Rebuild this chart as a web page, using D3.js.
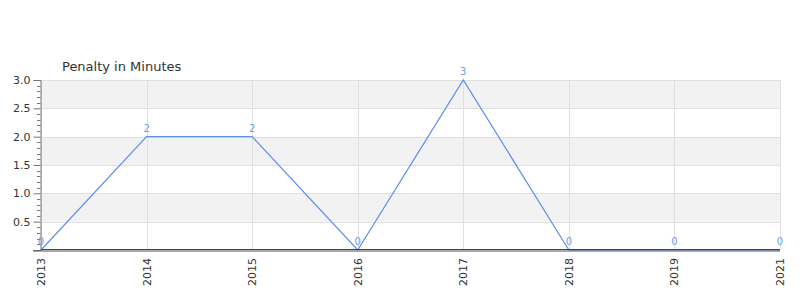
<!DOCTYPE html>
<html><head><meta charset="utf-8">
<script src="https://cdn.jsdelivr.net/npm/d3@7"></script>
<style>body{margin:0;background:#fff;font-family:"DejaVu Sans",sans-serif;}</style>
</head><body><svg id="c" width="800" height="300"></svg>
<script>
const years = ["2013","2014","2015","2016","2017","2018","2019","2021"];
const penalty = [0,2,2,0,3,0,0,0];
const yTicks = [0.5,1.0,1.5,2.0,2.5,3.0];
const title = "Penalty in Minutes";

const svg = d3.select("#c");
const L=41,R=780,T=80,B=250;
const x = d3.scalePoint().domain(years).range([L,R]);
const y = d3.scaleLinear().domain([0,3]).range([B,T]);
const font = "DejaVu Sans, sans-serif";

// bands
const bands = d3.range(0,3,0.5);
svg.selectAll("rect.band").data(bands).enter().append("rect")
  .attr("x",L).attr("width",R-L)
  .attr("y",d=>y(d+0.5)).attr("height",d=>y(d)-y(d+0.5))
  .attr("fill",(d,i)=>i%2===1?"#f2f2f2":"#ffffff");
// horizontal grid
svg.selectAll("line.hg").data(yTicks).enter().append("line")
  .attr("x1",L).attr("x2",R).attr("y1",d=>Math.round(y(d))+0.5).attr("y2",d=>Math.round(y(d))+0.5)
  .attr("stroke","#e0e0e0");
// vertical grid
svg.selectAll("line.vg").data(years).enter().append("line")
  .attr("x1",d=>Math.round(x(d))+0.5).attr("x2",d=>Math.round(x(d))+0.5).attr("y1",T).attr("y2",B)
  .attr("stroke","#e0e0e0");

// y axis
const ya = svg.append("g").attr("transform",`translate(${L-0.5},0)`)
  .call(d3.axisLeft(y).tickValues(yTicks).tickFormat(d3.format(".1f")).tickSize(7).tickPadding(3));
ya.select(".domain").attr("stroke","#777");
ya.selectAll(".tick line").attr("stroke","#777");
ya.selectAll("text").attr("fill","#333").style("font-family",font).style("font-size","11px");
const minor = d3.range(0.1,3.0001,0.1).filter(v=>Math.abs(v*2-Math.round(v*2))>1e-6);
svg.append("g").selectAll("line").data(minor).enter().append("line")
  .attr("x1",L-4).attr("x2",L-0.5).attr("y1",d=>Math.round(y(d))+0.5).attr("y2",d=>Math.round(y(d))+0.5)
  .attr("stroke","#777");

// line
const line = d3.line().x((d,i)=>x(years[i])).y(d=>y(d));
svg.append("path").datum(penalty).attr("d",line).attr("fill","none")
  .attr("stroke","#5b8ff0").attr("stroke-width",1.2);

// x axis
svg.append("line").attr("x1",L-8).attr("x2",R).attr("y1",B+1).attr("y2",B+1).attr("stroke","#555").attr("stroke-width",1.2);
svg.append("line").attr("x1",L).attr("x2",R).attr("y1",B-0.5).attr("y2",B-0.5).attr("stroke","#e00000").attr("stroke-width",1.2);
svg.selectAll("text.xl").data(years).enter().append("text")
  .attr("transform",d=>`translate(${x(d)+4},258) rotate(-90)`)
  .attr("text-anchor","end").attr("fill","#333")
  .style("font-family",font).style("font-size","11px").text(d=>d);

// labels
svg.selectAll("text.dl").data(penalty).enter().append("text")
  .attr("x",(d,i)=>x(years[i])).attr("y",d=>y(d)-5)
  .attr("text-anchor","middle").attr("fill","#6d9eeb")
  .style("font-family",font).style("font-size","10px").text(d=>d);

// title
svg.append("text").attr("x",62).attr("y",71).attr("fill","#333")
  .style("font-family",font).style("font-size","13px").text(title);
</script></body></html>
